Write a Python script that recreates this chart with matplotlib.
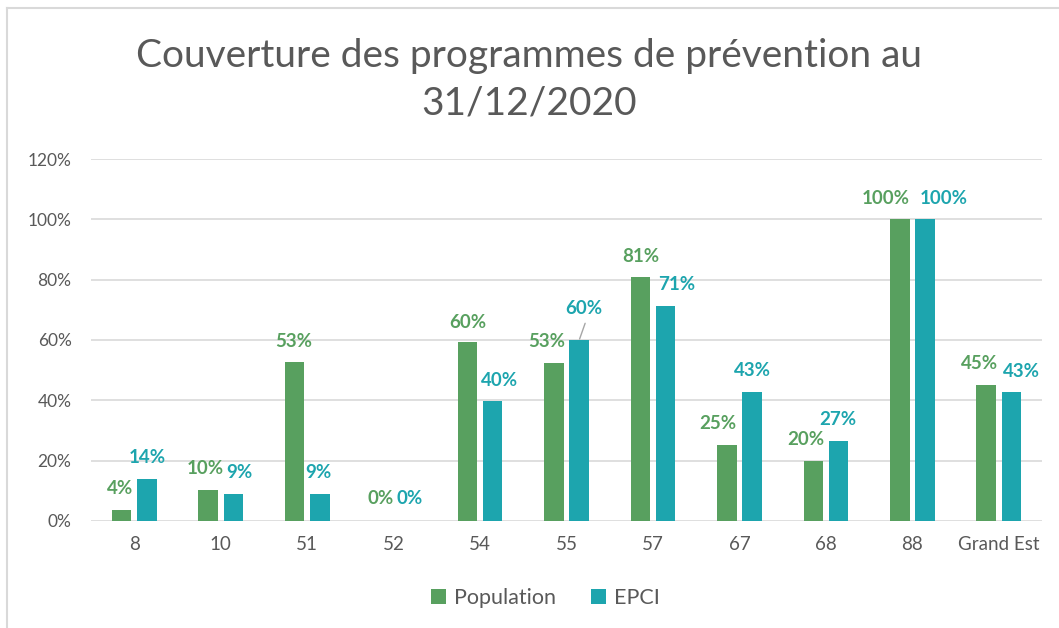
import numpy as np
import matplotlib.pyplot as plt
from matplotlib.lines import Line2D
from matplotlib.ticker import FuncFormatter

plt.rcParams['font.family'] = ['Lato', 'DejaVu Sans']

# Couverture (%) par département
categories = ['8', '10', '51', '52', '54', '55', '57', '67', '68', '88', 'Grand Est']
population = [3.7, 10.3, 52.6, 0, 59.5, 52.5, 80.8, 25.1, 19.9, 100, 45.2]
epci = [14.0, 9.1, 9.1, 0, 39.7, 59.9, 71.4, 42.8, 26.6, 100, 42.7]
pop_labels = ['4%', '10%', '53%', '0%', '60%', '53%', '81%', '25%', '20%', '100%', '45%']
epci_labels = ['14%', '9%', '9%', '0%', '40%', '60%', '71%', '43%', '27%', '100%', '43%']

# décalage des étiquettes (pixels) par rapport au haut de la barre
pop_off = [(-1, 21), (-3, 21), (-1, 21), (0, 22), (0, 19), (-7, 21), (0, 21), (-9, 22), (-7, 21), (-14, 21), (-7, 21)]
epci_off = [(0, 21), (6, 21), (-1, 21), (3, 22), (7, 21), (5, 32), (11, 21), (0, 21), (-1, 21), (19, 21), (10, 21)]

green = '#58A05F'
teal = '#1DA5AE'
grey = '#595959'

fig = plt.figure(figsize=(10.59, 6.28), dpi=100)
ax = fig.add_axes([0.0859, 0.1704, 0.8981, 0.5764])

x = np.arange(len(categories))
w = 0.226
off = 0.146
b1 = ax.bar(x - off, population, w, color=green, label='Population', zorder=3)
b2 = ax.bar(x + off, epci, w, color=teal, label='EPCI', zorder=3)

for bars, labs, offs, col in [(b1, pop_labels, pop_off, green), (b2, epci_labels, epci_off, teal)]:
    for r, lab, (dx, dy) in zip(bars, labs, offs):
        ax.annotate(lab, (r.get_x() + r.get_width() / 2, r.get_height()),
                    xytext=(dx, dy), textcoords='offset pixels',
                    ha='center', va='center', fontsize=13.5, fontweight='bold', color=col)

# trait de rappel pour l'étiquette EPCI du 55
r = b2[5]
ax.annotate('', (r.get_x() + r.get_width() / 2, r.get_height()),
            xytext=(6, 17), textcoords='offset pixels',
            arrowprops=dict(arrowstyle='-', color='#A6A6A6', lw=1, shrinkA=0, shrinkB=1))

ax.set_xlim(-0.5, len(categories) - 0.5)
ax.set_ylim(0, 120)
ax.set_yticks(np.arange(0, 121, 20))
ax.yaxis.set_major_formatter(FuncFormatter(lambda v, p: f'{v:.0f}%'))
ax.set_xticks(x)
ax.set_xticklabels(categories)
ax.tick_params(axis='both', length=0, colors=grey)
ax.tick_params(axis='x', pad=11, labelsize=13.5)
ax.tick_params(axis='y', pad=14, labelsize=12.5)
ax.grid(axis='y', color='#D9D9D9', lw=1.2, zorder=0)
for s in ax.spines.values():
    s.set_visible(False)

fig.text(0.5, 0.911, 'Couverture des programmes de prévention au', ha='center', va='center',
         fontsize=28, color=grey)
fig.text(0.5, 0.835, '31/12/2020', ha='center', va='center', fontsize=28, color=grey)

fig.legend(handles=[b1, b2], labels=['Population', 'EPCI'], loc='center',
           bbox_to_anchor=(0.515, 0.048), ncol=2, frameon=False, fontsize=15.5,
           labelcolor=grey, handlelength=0.7, handleheight=0.7, columnspacing=1.6,
           handletextpad=0.4)

# bordure du graphique
fig.add_artist(Line2D([7 / 1059, 7 / 1059], [0, 1 - 8 / 628], color='#D9D9D9', lw=1.5))
fig.add_artist(Line2D([7 / 1059, 1], [1 - 8 / 628, 1 - 8 / 628], color='#D9D9D9', lw=1.5))

fig.savefig('out.png', dpi=100)
